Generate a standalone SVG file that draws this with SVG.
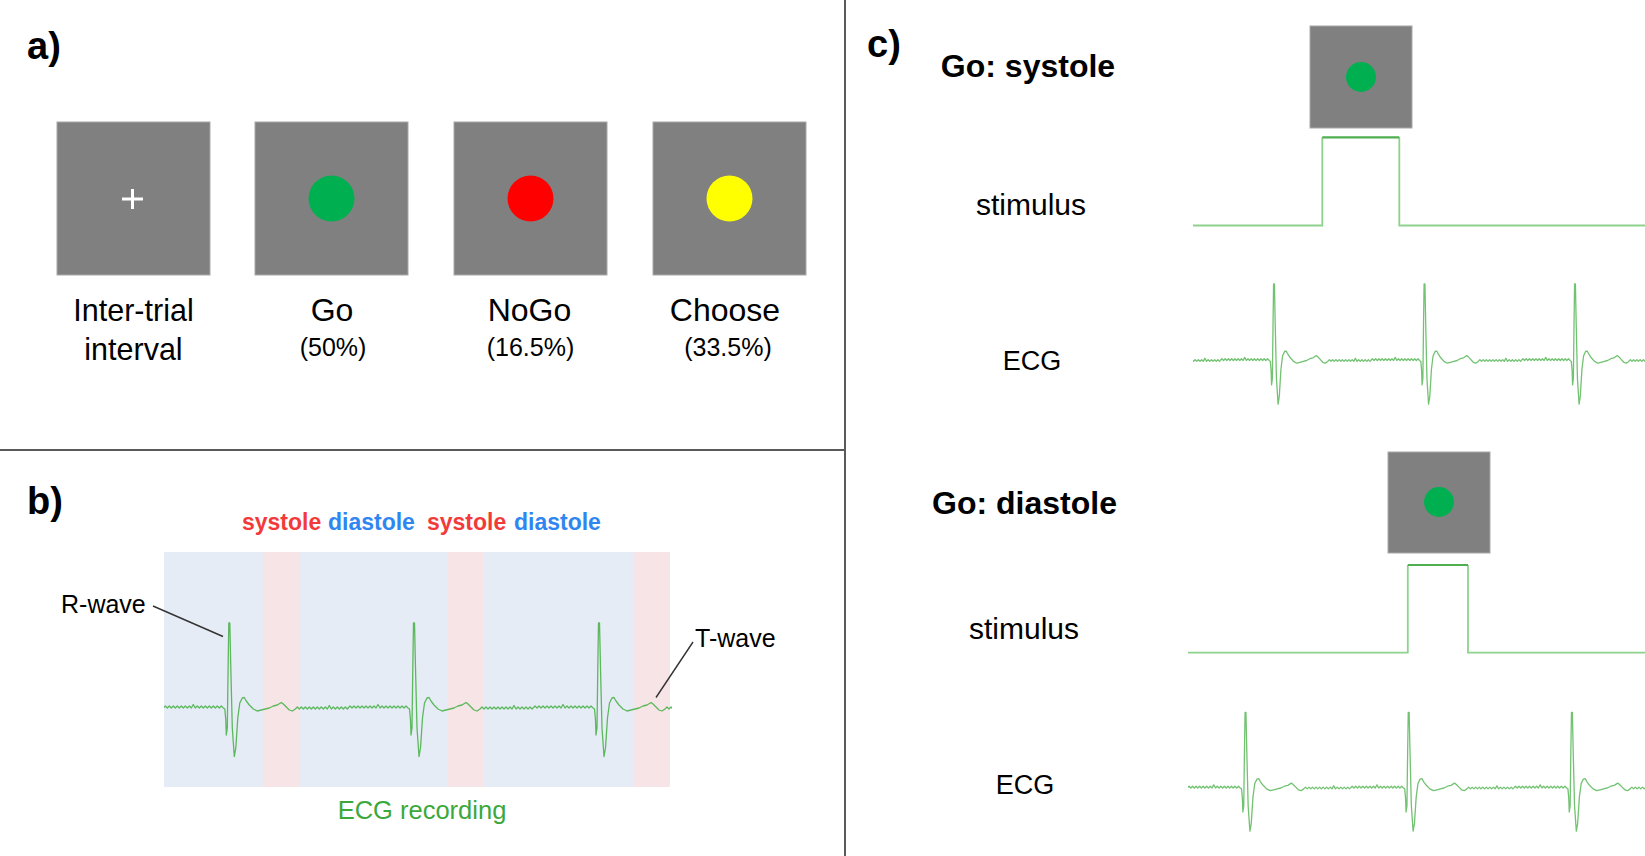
<svg xmlns="http://www.w3.org/2000/svg" xmlns:xlink="http://www.w3.org/1999/xlink" width="1645" height="856" viewBox="0 0 1645 856">
<style>
text{font-family:"Liberation Sans",Arial,sans-serif;fill:#000}
.lbl{font-size:32px;text-anchor:middle}
.pct{font-size:25px;text-anchor:middle}
.panel{font-size:38px;font-weight:bold}
.head{font-size:32px;font-weight:bold;text-anchor:middle}
.sig{font-size:30px;text-anchor:middle}
.ecgl{font-size:27px;text-anchor:middle}
.phase{font-size:23px;font-weight:bold}
.sys{fill:#f23a3a}
.dia{fill:#2f86f0}
.scr{fill:#808080;stroke:#a8a8a8;stroke-width:1}
.trace{fill:none;stroke:#5cb85c;stroke-width:1.3;stroke-linejoin:round}
.trace.c{stroke:#72c272}
.stim{fill:none;stroke:#8ed28e;stroke-width:1.8}
.stimtop{fill:none;stroke:#4fae4f;stroke-width:2.2}
.lead{fill:none;stroke:#333;stroke-width:1.4}
.div{stroke:#5a5a5a;stroke-width:2}
</style>
<defs>
<path id="beat" vector-effect="non-scaling-stroke" d="M-66,0 l2,-2 l2,2 l2,-2 l2,2 l2,-2 l2,2 l2,-2 l2,2 l2,-2 l2,2 l2,-2 l2,2 l2,-2 l2,2 l2,-3.5 l2,3.5 l2,-2 l2,2 l2,-2 l2,2 l2,-2 l2,2 l2,-2 l2,2 l2,-2 l2,2 l2,-2 l2,2 l2,-2 l2,2 L-4.5,1 L-3.5,12 L-3,27 L-2,20 L-1.2,-40 L-0.5,-85 L0.5,-85 L1.5,-40 L3,20 L5,48.5 L6.5,40 L8.5,10 L10.5,-5 L13,-10 L15,-10.5 L17,-7 L20,-3 L24,1 L28,3 L32,2 L36,1 L40,0 L44,-2 L48,-3 L52,-5.5 L54,-4 L57,-1 L60,2 L63,3 L66,1 l2,-2 l2,2 l2,-2 l2,2 l2,-2 l2,2 l2,-2 l2,2 l2,-2 l2,2 l2,-2 l2,2 l2,-2 l2,2 l2,-2 l2,2 l2,-3.5 l2,3.5 l2,-2 l2,2 l2,-2 l2,2 l2,-2 l2,2 l2,-2 l2,2 L119,0"/>
<clipPath id="clipB"><rect x="164" y="600" width="508" height="180"/></clipPath>
<clipPath id="clipC1"><rect x="1193" y="260" width="452" height="160"/></clipPath>
<clipPath id="clipC2"><rect x="1188" y="690" width="457" height="160"/></clipPath>
</defs>

<g id="dividers">
<line class="div" x1="845" y1="0" x2="845" y2="856"/>
<line class="div" x1="0" y1="450" x2="845" y2="450"/>
</g>

<g id="panel-a">
<text class="panel" x="27" y="59">a)</text>
<g id="screen-iti">
<rect class="scr" x="57" y="122" width="153" height="153"/>
<path d="M122,199 h21 M132.5,189 v20" stroke="#fff" stroke-width="3" fill="none"/>
<text class="lbl" style="font-size:30.5px" x="133.5" y="321">Inter-trial</text>
<text class="lbl" style="font-size:30.5px" x="133.5" y="360">interval</text>
</g>
<g id="screen-go">
<rect class="scr" x="255" y="122" width="153" height="153"/>
<circle cx="331.5" cy="198.5" r="23" fill="#00b050"/>
<text class="lbl" x="332" y="321">Go</text>
<text class="pct" x="333" y="356">(50%)</text>
</g>
<g id="screen-nogo">
<rect class="scr" x="454" y="122" width="153" height="153"/>
<circle cx="530.5" cy="198.5" r="23" fill="#ff0000"/>
<text class="lbl" x="529.5" y="321">NoGo</text>
<text class="pct" x="530.5" y="356">(16.5%)</text>
</g>
<g id="screen-choose">
<rect class="scr" x="653" y="122" width="153" height="153"/>
<circle cx="729.5" cy="198.5" r="23" fill="#ffff00"/>
<text class="lbl" x="725" y="321">Choose</text>
<text class="pct" x="728" y="356">(33.5%)</text>
</g>
</g>

<g id="panel-b">
<text class="panel" x="27" y="514">b)</text>
<text class="phase sys" x="242" y="530">systole</text>
<text class="phase dia" x="328" y="530">diastole</text>
<text class="phase sys" x="427" y="530">systole</text>
<text class="phase dia" x="514" y="530">diastole</text>
<rect x="164" y="552" width="506" height="235" fill="#e6ecf6"/>
<rect x="263" y="552" width="37" height="235" fill="#f7e4e6"/>
<rect x="448" y="552" width="35" height="235" fill="#f7e4e6"/>
<rect x="634" y="552" width="36" height="235" fill="#f7e4e6"/>
<g class="trace" clip-path="url(#clipB)">
<use xlink:href="#beat" href="#beat" transform="translate(229.3,708)"/>
<use xlink:href="#beat" href="#beat" transform="translate(414,708)"/>
<use xlink:href="#beat" href="#beat" transform="translate(599,708)"/>
</g>
<g id="label-rwave">
<text x="61" y="613" style="font-size:25px">R-wave</text>
<line class="lead" x1="153" y1="606" x2="223" y2="636.5"/>
</g>
<g id="label-twave">
<text x="695" y="647" style="font-size:25px">T-wave</text>
<line class="lead" x1="693" y1="642" x2="656" y2="697.5"/>
</g>
<text x="422" y="819" style="font-size:25.5px;text-anchor:middle;fill:#3ca83c">ECG recording</text>
</g>

<g id="panel-c">
<text class="panel" x="867" y="57">c)</text>
<g id="go-systole">
<text class="head" x="1028" y="77">Go: systole</text>
<rect class="scr" x="1310" y="26" width="102" height="102"/>
<circle cx="1361" cy="77" r="15" fill="#00b050"/>
<text class="sig" x="1031" y="215">stimulus</text>
<path class="stim" d="M1193,225.5 H1322.3 V137.3 M1399.3,137.3 V225.5 H1645"/>
<path class="stimtop" d="M1322.3,137.3 H1399.3"/>
<text class="ecgl" x="1032" y="370">ECG</text>
<g class="trace c" clip-path="url(#clipC1)">
<use xlink:href="#beat" href="#beat" transform="translate(1123.5,360.5) scale(0.814,0.9)"/>
<use xlink:href="#beat" href="#beat" transform="translate(1274,360.5) scale(0.814,0.9)"/>
<use xlink:href="#beat" href="#beat" transform="translate(1424.5,360.5) scale(0.814,0.9)"/>
<use xlink:href="#beat" href="#beat" transform="translate(1575,360.5) scale(0.814,0.9)"/>
</g>
</g>
<g id="go-diastole">
<text class="head" x="1024.5" y="514">Go: diastole</text>
<rect class="scr" x="1388" y="452" width="102" height="101"/>
<circle cx="1439" cy="502" r="15" fill="#00b050"/>
<text class="sig" x="1024" y="638.5">stimulus</text>
<path class="stim" d="M1188,652.7 H1407.8 V565 M1468,565 V652.7 H1645"/>
<path class="stimtop" d="M1407.8,565 H1468"/>
<text class="ecgl" x="1025" y="794">ECG</text>
<g class="trace c" clip-path="url(#clipC2)">
<use xlink:href="#beat" href="#beat" transform="translate(1082.3,788) scale(0.882,0.89)"/>
<use xlink:href="#beat" href="#beat" transform="translate(1245.5,788) scale(0.882,0.89)"/>
<use xlink:href="#beat" href="#beat" transform="translate(1408.7,788) scale(0.882,0.89)"/>
<use xlink:href="#beat" href="#beat" transform="translate(1571.9,788) scale(0.882,0.89)"/>
</g>
</g>
</g>
</svg>
